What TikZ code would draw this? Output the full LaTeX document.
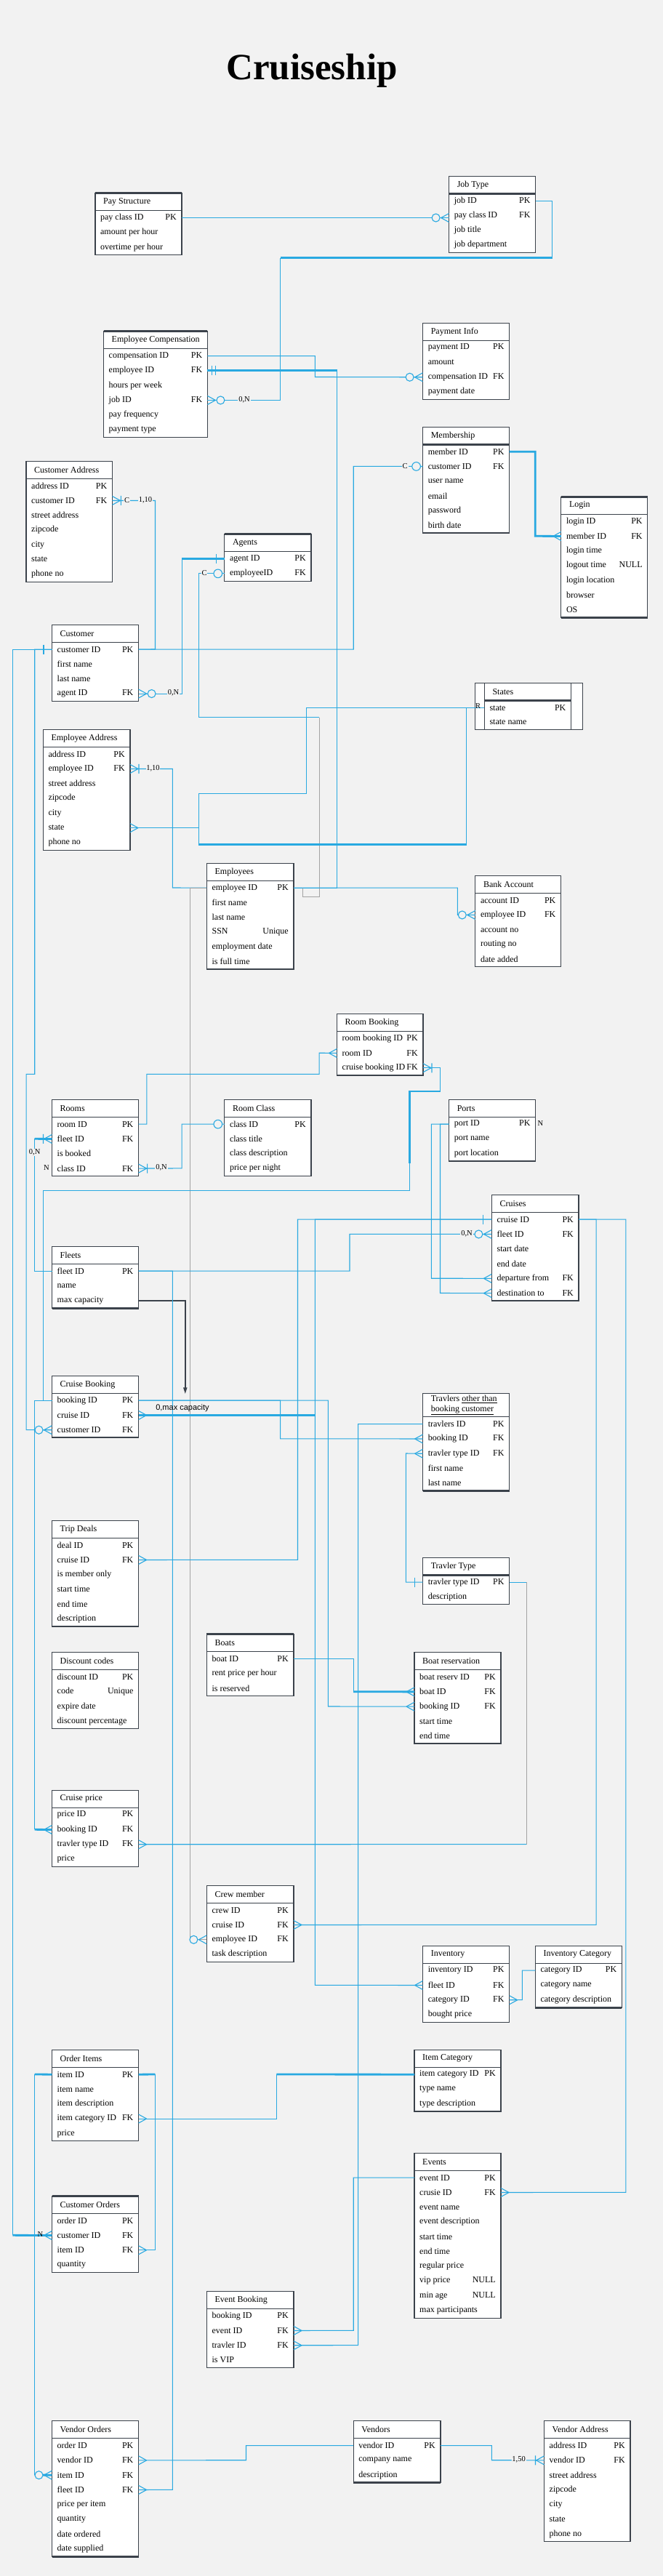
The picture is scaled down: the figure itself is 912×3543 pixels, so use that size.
\documentclass[tikz,border=0pt]{standalone}
\usepackage{fontspec}
\setmainfont{Liberation Serif}
\newfontfamily\capfont{Liberation Sans}
\usetikzlibrary{arrows.meta}

\definecolor{bgcol}{HTML}{F2F2F2}
\definecolor{tblcol}{HTML}{3B424B}
\definecolor{relblue}{HTML}{29A9E1}
\definecolor{relgray}{HTML}{A3A3A3}

% #1 name, #2 x, #3 y, #4 width, #5 header height, #6 title, #7 rows
\newcommand{\ertable}[7]{%
  \pgfmathsetlengthmacro{\hdwd}{(#4-22)*1pt}%
  \pgfmathsetlengthmacro{\rowwd}{(#4-14)*1pt}%
  \node[tblhead, minimum width=#4, minimum height=#5, anchor=north west] (#1) at (#2,#3)
    {\makebox[\hdwd][l]{#6}};
  \foreach \fld/\key [count=\i] in {#7} {
    \node[tblrow, anchor=north west] (#1-\i) at (#2,#3+#5+\i*20.3-20.3)
      {\makebox[\rowwd][s]{\fld\hfill\key}};
    \xdef\lastrow{\i}
  }
  \draw[tblline] (#1.south west) -- (#1.south east);
  \draw[tblline] (#1.north west) rectangle (#1-\lastrow.south east);
}

\begin{document}
\begin{tikzpicture}[
    x=1pt, y=-1pt,
    font=\fontsize{12}{14}\selectfont,
    tblhead/.style={fill=white, inner xsep=11pt, inner ysep=0pt},
    tblrow/.style={fill=white, inner xsep=7pt, inner ysep=0pt, minimum height=20.3pt},
    tblline/.style={draw=tblcol, line width=1.3pt},
    tblthick/.style={draw=tblcol, line width=3pt},
    rel/.style={draw=relblue, line width=1.1pt},
    relthick/.style={draw=relblue, line width=2.8pt},
    relgray/.style={draw=relgray, line width=0.8pt},
    capline/.style={draw=tblcol, line width=1.8pt, -{Triangle[length=9pt,width=5pt]}},
    lbl/.style={fill=bgcol, inner sep=0.8pt, font=\fontsize{10.5}{12}\selectfont},
    crow/.pic={\draw[rel] (-11,0) -- (0,-6) (-11,0) -- (0,6);},
    crowbar/.pic={\draw[rel] (-11,0) -- (0,-6) (-11,0) -- (0,6) (-12,-6.5) -- (-12,6.5);},
    zerocrow/.pic={\draw[rel] (-11,0) -- (0,-6) (-11,0) -- (0,6);
                   \draw[rel, fill=bgcol] (-18,0) circle[radius=5.5];},
    onebar/.pic={\draw[rel] (-11.5,-6.5) -- (-11.5,6.5);},
    twobar/.pic={\draw[rel] (-6,-6.5) -- (-6,6.5) (-11.5,-6.5) -- (-11.5,6.5);},
    ring/.pic={\draw[rel, fill=bgcol] (-9,0) circle[radius=5.8];}
]

\fill[bgcol] (0,0) rectangle (912,3543);
\useasboundingbox (0,0) rectangle (912,3543);

\node[font=\fontsize{51}{60}\selectfont\bfseries] (title) at (429,97) {Cruiseship};

% States frame
\draw[tblline, fill=white] (653.8,939.3) rectangle (801.5,1003.3);

% Tables
\ertable{pay}{130.9}{265.7}{118.6}{23.5}{Pay Structure}
  {pay class ID/PK, amount per hour/{}, overtime per hour/{}}
\ertable{job}{617.6}{242.3}{118.7}{23.5}{Job Type}
  {job ID/PK, pay class ID/FK, job title/{}, job department/{}}
\ertable{comp}{142.5}{455.7}{142.5}{23.5}{Employee Compensation}
  {compensation ID/PK, employee ID/FK, hours per week/{}, job ID/FK, pay frequency/{}, payment type/{}}
\ertable{payinfo}{581.6}{444.3}{118.7}{23.5}{Payment Info}
  {payment ID/PK, amount/{}, compensation ID/FK, payment date/{}}
\ertable{member}{581.6}{587.3}{118.7}{23.5}{Membership}
  {member ID/PK, customer ID/FK, user name/{}, email/{}, password/{}, birth date/{}}
\ertable{login}{771.8}{683.3}{118.6}{23.5}{Login}
  {login ID/PK, member ID/FK, login time/{}, logout time/NULL, login location/{}, browser/{}, OS/{}}
\ertable{custaddr}{36}{634.3}{118}{23.5}{Customer Address}
  {address ID/PK, customer ID/FK, street address/{}, zipcode/{}, city/{}, state/{}, phone no/{}}
\ertable{agents}{308.8}{734.7}{118.7}{23.5}{Agents}
  {agent ID/PK, employeeID/FK}
\ertable{cust}{71.5}{859.3}{118.7}{23.5}{Customer}
  {customer ID/PK, first name/{}, last name/{}, agent ID/FK}
\ertable{states}{666.3}{939.3}{118.9}{23.5}{States}
  {state/PK, state name/{}}
\ertable{empaddr}{59.3}{1003.3}{119.3}{23.5}{Employee Address}
  {address ID/PK, employee ID/FK, street address/{}, zipcode/{}, city/{}, state/{}, phone no/{}}
\ertable{emp}{284.4}{1187.3}{119.2}{23.5}{Employees}
  {employee ID/PK, first name/{}, last name/{}, SSN/Unique, employment date/{}, is full time/{}}
\ertable{bank}{653.8}{1204.3}{117.4}{23.5}{Bank Account}
  {account ID/PK, employee ID/FK, account no/{}, routing no/{}, date added/{}}
\ertable{roombk}{463.5}{1394.3}{118.1}{23.5}{Room Booking}
  {room booking ID/PK, room ID/FK, cruise booking ID/FK}
\ertable{rooms}{71.5}{1512.3}{118.7}{23.5}{Rooms}
  {room ID/PK, fleet ID/FK, is booked/{}, class ID/FK}
\ertable{roomclass}{308.8}{1512.3}{118.7}{23.5}{Room Class}
  {class ID/PK, class title/{}, class description/{}, price per night/{}}
\ertable{ports}{617.6}{1512.3}{118.7}{23.5}{Ports}
  {port ID/PK, port name/{}, port location/{}}
\ertable{cruises}{676.4}{1643.3}{119.3}{23.5}{Cruises}
  {cruise ID/PK, fleet ID/FK, start date/{}, end date/{}, departure from/FK, destination to/FK}
\ertable{fleets}{71.5}{1714.3}{118.7}{23.5}{Fleets}
  {fleet ID/PK, name/{}, max capacity/{}}
\ertable{cruisebk}{71.5}{1892.3}{118.7}{23.5}{Cruise Booking}
  {booking ID/PK, cruise ID/FK, customer ID/FK}
\ertable{travelers}{581.6}{1916.3}{118.7}{32}{\shortstack[l]{Travlers \underline{other than}\\\underline{booking customer}}}
  {travlers ID/PK, booking ID/FK, travler type ID/FK, first name/{}, last name/{}}
\ertable{trip}{71.5}{2091.3}{118.7}{23.5}{Trip Deals}
  {deal ID/PK, cruise ID/FK, is member only/{}, start time/{}, end time/{}, description/{}}
\ertable{travtype}{581.6}{2142.3}{118.7}{23.5}{Travler Type}
  {travler type ID/PK, description/{}}
\ertable{boats}{284.4}{2247.7}{119.2}{23.5}{Boats}
  {boat ID/PK, rent price per hour/{}, is reserved/{}}
\ertable{discount}{71.5}{2272.7}{118.7}{23.5}{Discount codes}
  {discount ID/PK, code/Unique, expire date/{}, discount percentage/{}}
\ertable{boatres}{570}{2272.7}{118.6}{23.5}{Boat reservation}
  {boat reserv ID/PK, boat ID/FK, booking ID/FK, start time/{}, end time/{}}
\ertable{price}{71.5}{2462.3}{118.7}{23.5}{Cruise price}
  {price ID/PK, booking ID/FK, travler type ID/FK, price/{}}
\ertable{crew}{284.4}{2593.3}{119.2}{23.5}{Crew member}
  {crew ID/PK, cruise ID/FK, employee ID/FK, task description/{}}
\ertable{inv}{581.6}{2676.3}{118.7}{23.5}{Inventory}
  {inventory ID/PK, fleet ID/FK, category ID/FK, bought price/{}}
\ertable{invcat}{736.3}{2676.3}{118.7}{23.5}{Inventory Category}
  {category ID/PK, category name/{}, category description/{}}
\ertable{orderitems}{71.5}{2819.3}{118.7}{23.5}{Order Items}
  {item ID/PK, item name/{}, item description/{}, item category ID/FK, price/{}}
\ertable{itemcat}{570}{2819.3}{118.6}{23.5}{Item Category}
  {item category ID/PK, type name/{}, type description/{}}
\ertable{events}{570}{2961.3}{118.6}{23.5}{Events}
  {event ID/PK, crusie ID/FK, event name/{}, event description/{}, start time/{}, end time/{}, regular price/{}, vip price/NULL, min age/NULL, max participants/{}}
\ertable{custorders}{71.5}{3020.3}{118.7}{23.5}{Customer Orders}
  {order ID/PK, customer ID/FK, item ID/FK, quantity/{}}
\ertable{eventbk}{284.4}{3151.3}{119.2}{23.5}{Event Booking}
  {booking ID/PK, event ID/FK, travler ID/FK, is VIP/{}}
\ertable{vendorders}{71.5}{3329.7}{118.7}{23.5}{Vendor Orders}
  {order ID/PK, vendor ID/FK, item ID/FK, fleet ID/FK, price per item/{}, quantity/{}, date ordered/{}, date supplied/{}}
\ertable{vendors}{486.2}{3329.7}{119.3}{23.5}{Vendors}
  {vendor ID/PK, company name/{}, description/{}}
\ertable{vendaddr}{748.5}{3329.7}{118.1}{23.5}{Vendor Address}
  {address ID/PK, vendor ID/FK, street address/{}, zipcode/{}, city/{}, state/{}, phone no/{}}

% Heavier borders
\draw[tblthick] (pay.north west) -- (pay.north east);
\draw[tblthick] (job.south west) -- (job.south east);
\draw[tblthick] (comp.north west) -- (comp.north east);
\draw[tblthick] (member.south west) -- (member.south east);
\draw[tblthick] (login.north west) -- (login.north east);
\draw[tblthick] (login-7.south west) -- (login-7.south east);
\draw[tblthick] (agents.north west) -- (agents.north east);
\draw[tblthick] (states.south west) -- (states.south east);
\draw[tblthick] (fleets-3.south west) -- (fleets-3.south east);
\draw[tblthick] (travelers-5.south west) -- (travelers-5.south east);
\draw[tblthick] (travtype.south west) -- (travtype.south east);
\draw[tblthick] (boats.north west) -- (boats.north east);
\draw[tblthick] (invcat-3.south west) -- (invcat-3.south east);
\draw[tblthick] (custorders.north west) -- (custorders.north east);
\draw[tblthick] (vendorders-8.south west) -- (vendorders-8.south east);
\draw[tblthick] (vendors-3.south west) -- (vendors-3.south east);

% Pay Structure / Job Type / Compensation
\draw[rel] (pay-1.east) -- (pay-1.east -| job-2.west) pic{zerocrow};
\draw[rel] (job-1.east) -| (759.6,354.7);
\draw[relthick] (759.6,354.7) -- (385.6,354.7);
\draw[rel] (385.6,354.7) |- (comp-4.east) pic[xscale=-1]{zerocrow};
\draw[rel] (comp-1.east) -| (433.3,518.5) -- (payinfo-3.west) pic{zerocrow};
\draw[relthick] (comp-2.east) -- ++(178.5,0) coordinate (empk);
\draw[rel] (empk) |- (emp-1.east);
\path (comp-2.east) pic[xscale=-1]{twobar};

% Customer side
\draw[rel] (custaddr-2.east) pic[xscale=-1]{crowbar} -| (213.5,893) -- (cust-1.east);
\draw[rel] (cust-1.east) -| (486.2,641.3) -- (member-2.west) pic{ring};
\draw[relthick] (member-1.east) -| (736.3,737.3) -- (login-2.west) pic{crow};
\draw[relthick] (agents-1.west) -- ++(-58.7,0) coordinate (agk);
\draw[rel] (agk) |- (cust-4.east) pic[xscale=-1]{zerocrow};
\path (agents-1.west) pic{onebar};
\draw[rel] (agents-2.west) pic{ring} -| (273.4,986.7) -- (439.1,986.7);
\draw[relgray] (439.1,986.7) -- (439.1,1233.3) -| (415.9,1221);
\path (cust-1.west) pic{onebar};
\draw[rel] (cust-1.west) -| (47.7,1477.3) -| (36.1,1966.6) -- (cruisebk-3.west) pic{zerocrow};
\draw[rel] (cust-1.west) -| (17.4,3074.3);
\draw[relthick] (17.4,3074.3) -- (custorders-2.west) pic{crow};

% Employees
\draw[rel] (empaddr-2.east) pic[xscale=-1]{crowbar} -| (237.3,1221) -- (emp-1.west);
\draw[rel] (emp-1.east) -| (629.3,1258.3) -- (bank-2.west) pic{zerocrow};
\draw[relgray] (emp-1.west) -- ++(-22.7,0) |- (crew-3.west);
\path (crew-3.west) pic{zerocrow};

% States
\draw[rel] (states-1.west) -| (421.7,1091.3) -| (273.4,1161.7);
\draw[rel] (states-1.west) -| (641.5,1161.7);
\draw[relthick] (641.5,1161.7) -- (273.4,1161.7);
\draw[rel] (empaddr-6.east) pic[xscale=-1]{crow} -- ++(94.8,0);

% Rooms
\draw[rel] (roombk-3.east) pic[xscale=-1]{crowbar} -| (605.5,1501);
\draw[relthick] (605.5,1501) -| (563.6,1600);
\draw[rel] (563.6,1600) |- (59.3,1637.3) |- (cruisebk-1.west);
\draw[rel] (rooms-1.east) -| (201.8,1477.3) -| (439.1,1448.2) -- (roombk-2.west) pic{crow};
\draw[rel] (roomclass-1.west) pic{ring} -| (250.1,1606.9) -- (rooms-4.east) pic[xscale=-1]{crowbar};
\draw[rel] (fleets-1.west) -| (47.7,1566.3);
\draw[relthick] (47.7,1566.3) -- (rooms-2.west) pic{crowbar};

% Cruises
\draw[rel] (ports-1.west) -| (593.3,1758.2) -- (cruises-5.west) pic{crow};
\draw[rel] (ports-1.west) -| (605.5,1778.5) -- (cruises-6.west) pic{crow};
\draw[rel] (fleets-1.east) -| (481,1697.3) -- (cruises-2.west) pic{zerocrow};
\draw[rel] (cruises-1.west) pic{onebar} -| (409.5,2145.3) -- (trip-2.east) pic[xscale=-1]{crow};
\draw[rel] (cruises-1.west) -| (433.3,2730.3) -- (inv-2.west) pic{crow};
\draw[relthick] (cruisebk-2.east) -- ++(243.1,0);
\path (cruisebk-2.east) pic[xscale=-1]{crow};
\draw[rel] (cruises-1.east) -| (820.1,2647.3) -- (crew-2.east) pic[xscale=-1]{crow};
\draw[rel] (cruises-1.east) -| (860.8,3015.3) -- (events-2.east) pic[xscale=-1]{crow};
\coordinate (capend) at (254.8,1917.3);
\draw[capline] (fleets-3.east) -| (capend);
\draw[rel] (fleets-1.east) -| (237.3,3424.3) -- (vendorders-4.east) pic[xscale=-1]{crow};

% Bookings
\draw[rel] (cruisebk-1.west) -| (47.7,2516.3);
\draw[relthick] (47.7,2516.3) -- (price-2.west) pic{crow};
\draw[rel] (cruisebk-1.east) -| (385.6,1978.8) -- (travelers-2.west) pic{crow};
\draw[rel] (cruisebk-1.east) -| (451.3,2347) -- (boatres-3.west) pic{crow};
\draw[rel] (travelers-1.west) -| (492.6,3225.6) -- (eventbk-3.east) pic[xscale=-1]{crow};
\draw[rel] (travtype-1.west) pic{onebar} -| (558.4,1999) -- (travelers-3.west) pic{crow};
\draw[rel] (travtype-1.east) -- ++(23.8,0);
\draw[relgray] (724.1,2176) -- (724.1,2536.6);
\draw[rel] (724.1,2536.6) -- (price-3.east) pic[xscale=-1]{crow};
\draw[rel] (boats-1.east) -| (486.2,2326.7);
\draw[relthick] (486.2,2326.7) -- (boatres-2.west) pic{crow};

% Inventory, orders, events, vendors
\draw[rel] (invcat-1.west) -| (718.3,2750.6) -- (inv-3.east) pic[xscale=-1]{crow};
\draw[relthick] (itemcat-1.west) -- (380.4,2853);
\draw[rel] (380.4,2853) |- (orderitems-4.east) pic[xscale=-1]{crow};
\draw[rel] (events-1.west) -| (486.2,3205.3) -- (eventbk-2.east) pic[xscale=-1]{crow};
\draw[relthick] (orderitems-1.east) -- (213.5,2853);
\draw[rel] (213.5,2853) |- (custorders-3.east) pic[xscale=-1]{crow};
\draw[relthick] (orderitems-1.west) -- (47.7,2853);
\draw[rel] (47.7,2853) -- (47.7,3404);
\draw[relthick] (47.7,3404) -- (vendorders-3.west) pic{zerocrow};
\draw[rel] (vendors-1.west) -| (338.5,3383.7) -- (vendorders-2.east) pic[xscale=-1]{crow};
\draw[rel] (vendors-1.east) -| (676.4,3383.7) -- (vendaddr-2.west) pic{crowbar};

% Labels
\node[lbl] (n-jobcomp) at (336,550) {0,N};
\node[lbl] (c-custaddr) at (174.5,688) {C};
\node[lbl] (n-custaddr) at (200,688) {1,10};
\node[lbl] (c-member) at (557.2,641) {C};
\node[lbl] (n-agent) at (238.5,953) {0,N};
\node[lbl] (c-agent) at (281,788.5) {C};
\node[lbl] (n-empaddr) at (210.5,1057) {1,10};
\node[lbl, fill=none] (r-states) at (657.5,971) {R};
\node[lbl] (n-roomclass) at (222,1606) {0,N};
\node[lbl] (n-roomfleet) at (47.7,1585) {0,N};
\node[lbl, fill=none] (m-roomfleet) at (64,1605.7) {N};
\node[lbl, fill=none] (m-ports) at (743.3,1545.5) {N};
\node[lbl] (n-cruisefleet) at (642,1697) {0,N};
\node[font=\capfont\fontsize{11}{13}\selectfont] (n-capacity) at (251,1936.7) {0,max capacity};
\node[lbl, fill=none] (m-custorders) at (55.3,3072.7) {N};
\node[lbl] (n-vendaddr) at (713.6,3383.2) {1,50};

\end{tikzpicture}
\end{document}
